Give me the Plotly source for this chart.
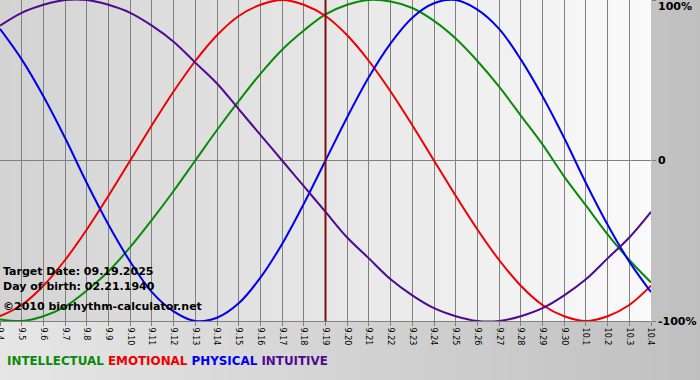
import plotly.graph_objects as go

# ---------------- data ----------------
dates = ["9.4", "9.5", "9.6", "9.7", "9.8", "9.9", "9.10", "9.11", "9.12", "9.13",
         "9.14", "9.15", "9.16", "9.17", "9.18", "9.19", "9.20", "9.21", "9.22", "9.23",
         "9.24", "9.25", "9.26", "9.27", "9.28", "9.29", "9.30", "10.1", "10.2", "10.3", "10.4"]

intellectual = [-99, -100, -97, -91, -81, -69, -54, -37, -19, 0, 19, 37, 54, 69, 81, 91,
                97, 100, 99, 95, 87, 76, 62, 46, 28, 10, -10, -28, -46, -62, -76]
emotional = [-97, -90, -78, -62, -43, -22, 0, 22, 43, 62, 78, 90, 97, 100, 97, 90,
             78, 62, 43, 22, 0, -22, -43, -62, -78, -90, -97, -100, -97, -90, -78]
physical = [82, 63, 40, 14, -14, -40, -63, -82, -94, -100, -98, -89, -73, -52, -27, 0,
            27, 52, 73, 89, 98, 100, 94, 82, 63, 40, 14, -14, -40, -63, -82]
intuitive = [84, 92, 97, 100, 100, 97, 92, 84, 74, 61, 48, 32, 16, 0, -16, -32,
             -48, -61, -74, -84, -92, -97, -100, -100, -97, -92, -84, -74, -61, -48, -32]

series_names = ["INTELLECTUAL", "EMOTIONAL", "PHYSICAL", "INTUITIVE"]
series_values = [intellectual, emotional, physical, intuitive]
series_colors = ["#0a8a0a", "#ee0000", "#0000ee", "#500a90"]

target_date = "9.19"
info_lines = ["Target Date: 09.19.2025", "Day of birth: 02.21.1940",
              "\u00a92010 biorhythm-calculator.net"]
y_ticks = [100, 0, -100]
y_tick_text = ["100%", "0", "-100%"]

# ---------------- layout geometry ----------------
W, H = 700, 380
ML, MR, MT, MB = 0, 49, 0, 59
PW = W - ML - MR
PH = H - MT - MB

FONT = "DejaVu Sans"

fig = go.Figure()

for name, vals, col in zip(series_names, series_values, series_colors):
    fig.add_trace(go.Scatter(
        x=dates, y=vals, mode="lines", name=name,
        line=dict(color=col, width=2, shape="spline", smoothing=1.0),
        hoverinfo="skip", showlegend=False))

shapes = []


def gray(v):
    v = int(round(v))
    return "rgb(%d,%d,%d)" % (v, v, v)


# paper gradient (light left -> darker right)
n = 70
for i in range(n):
    px0 = W * i / n
    px1 = W * (i + 1) / n + 0.6
    c = 0xe6 + (0xc0 - 0xe6) * (i + 0.5) / n
    shapes.append(dict(type="rect", xref="paper", yref="paper",
                       x0=px0 / PW, x1=px1 / PW, y0=-MB / PH, y1=1.0,
                       line=dict(width=0), fillcolor=gray(c), layer="below"))

# plot-area gradient (gray left -> white right)
n2 = 65
for i in range(n2):
    px0 = PW * i / n2
    px1 = min(PW * (i + 1) / n2 + 0.6, PW)
    c = 0xd3 + (0xfa - 0xd3) * (i + 0.5) / n2
    shapes.append(dict(type="rect", xref="paper", yref="paper",
                       x0=px0 / PW, x1=px1 / PW, y0=0, y1=1.0,
                       line=dict(width=0), fillcolor=gray(c), layer="below"))

# target date marker
ti = dates.index(target_date)
shapes.append(dict(type="line", xref="x", yref="paper", x0=ti, x1=ti, y0=0, y1=1,
                   line=dict(color="#7a1010", width=2), layer="above"))

annotations = []
for yv, txt in zip(y_ticks, y_tick_text):
    annotations.append(dict(
        xref="paper", yref="y", x=1.0, y=yv, xanchor="left",
        yanchor="top" if yv == 100 else "middle",
        xshift=5, yshift=2 if yv == 100 else 0,
        text="<b>%s</b>" % txt, showarrow=False,
        font=dict(family=FONT, size=11, color="#000000")))

info_px = [271, 286, 306]
for txt, py in zip(info_lines, info_px):
    annotations.append(dict(
        xref="paper", yref="paper", x=0, y=(PH - py) / PH,
        xanchor="left", yanchor="middle", xshift=1,
        text="<b>%s</b>" % txt, showarrow=False,
        font=dict(family=FONT, size=11, color="#000000")))

legend_txt = " ".join("<span style='color:%s'>%s</span>" % (c, nm)
                      for nm, c in zip(series_names, series_colors))
annotations.append(dict(
    xref="paper", yref="paper", x=5 / PW, y=(PH - 361) / PH,
    xanchor="left", yanchor="middle",
    text="<b>%s</b>" % legend_txt, showarrow=False,
    font=dict(family=FONT, size=11.9)))

fig.update_layout(
    width=W, height=H,
    margin=dict(l=ML, r=MR, t=MT, b=MB, pad=0, autoexpand=False),
    paper_bgcolor="#d0d0d0",
    plot_bgcolor="rgba(0,0,0,0)",
    shapes=shapes,
    annotations=annotations,
    xaxis=dict(type="category", range=[0, len(dates) - 1], automargin=False,
               tickmode="array", tickvals=dates, ticktext=dates,
               tickangle=90, ticks="outside", ticklen=4, tickcolor="#808080",
               tickfont=dict(family=FONT, size=8, color="#000000"),
               showgrid=True, gridcolor="#808080", gridwidth=1,
               showline=True, linecolor="#808080", linewidth=1,
               zeroline=False, fixedrange=True),
    yaxis=dict(range=[-100, 100], side="right", automargin=False,
               tickvals=y_ticks, showticklabels=False,
               ticks="outside", ticklen=4, tickcolor="#808080",
               showgrid=False, zeroline=True, zerolinecolor="#808080", zerolinewidth=1,
               showline=False, fixedrange=True),
    showlegend=False,
)

fig.write_html("out.html")
